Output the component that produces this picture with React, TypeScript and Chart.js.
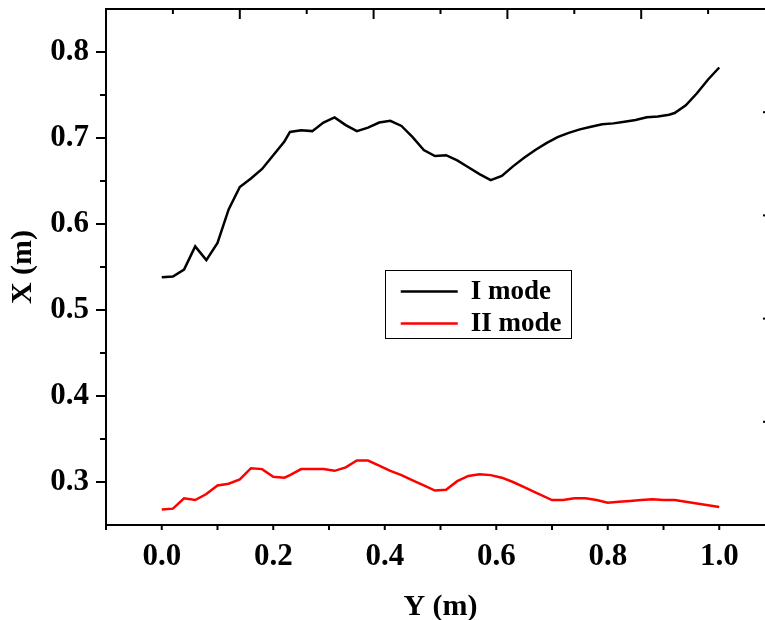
import React, { useEffect, useRef } from "react";
import { Chart, registerables } from "chart.js";

Chart.register(...registerables);

// ---- data ----
const modeIX = [0, 0.02, 0.04, 0.06, 0.08, 0.10, 0.12, 0.14, 0.16, 0.18, 0.20, 0.22, 0.23, 0.25, 0.27, 0.29, 0.31, 0.33, 0.35, 0.37, 0.39, 0.41, 0.43, 0.45, 0.47, 0.49, 0.51, 0.53, 0.55, 0.57, 0.59, 0.61, 0.63, 0.65, 0.67, 0.69, 0.71, 0.73, 0.75, 0.77, 0.79, 0.81, 0.83, 0.85, 0.87, 0.89, 0.91, 0.92, 0.94, 0.96, 0.98, 1.00];
const modeIY = [0.538, 0.539, 0.547, 0.574, 0.558, 0.578, 0.617, 0.643, 0.653, 0.664, 0.680, 0.696, 0.707, 0.709, 0.708, 0.718, 0.724, 0.715, 0.708, 0.712, 0.718, 0.720, 0.714, 0.701, 0.686, 0.679, 0.680, 0.674, 0.666, 0.658, 0.651, 0.656, 0.667, 0.677, 0.686, 0.694, 0.701, 0.706, 0.710, 0.713, 0.716, 0.717, 0.719, 0.721, 0.724, 0.725, 0.727, 0.729, 0.738, 0.752, 0.768, 0.782];

const modeIIX = [0, 0.02, 0.04, 0.06, 0.08, 0.10, 0.12, 0.14, 0.16, 0.18, 0.20, 0.22, 0.23, 0.25, 0.27, 0.29, 0.31, 0.33, 0.35, 0.37, 0.39, 0.41, 0.43, 0.45, 0.47, 0.49, 0.51, 0.53, 0.55, 0.57, 0.59, 0.61, 0.63, 0.65, 0.67, 0.70, 0.72, 0.74, 0.76, 0.78, 0.80, 0.82, 0.84, 0.86, 0.88, 0.90, 0.92, 0.94, 0.96, 0.98, 1.00];
const modeIIY = [0.268, 0.269, 0.281, 0.279, 0.286, 0.296, 0.298, 0.303, 0.316, 0.315, 0.306, 0.305, 0.308, 0.315, 0.315, 0.315, 0.313, 0.317, 0.325, 0.325, 0.319, 0.313, 0.308, 0.302, 0.296, 0.290, 0.291, 0.301, 0.307, 0.309, 0.308, 0.305, 0.300, 0.294, 0.288, 0.279, 0.279, 0.281, 0.281, 0.279, 0.276, 0.277, 0.278, 0.279, 0.280, 0.279, 0.279, 0.277, 0.275, 0.273, 0.271];

const seriesLabels = ["I mode", "II mode"];
const seriesColors = ["#000000", "#ff0000"];

const xTickValues = [0, 0.2, 0.4, 0.6, 0.8, 1.0];
const xMinorValues = [-0.1, 0.1, 0.3, 0.5, 0.7, 0.9, 1.1];
const yTickValues = [0.3, 0.4, 0.5, 0.6, 0.7, 0.8];
const yMinorValues = [0.35, 0.45, 0.55, 0.65, 0.75];
const topMajorValues = [2, 4, 6, 8];
const topMinorValues = [1, 3, 5, 7, 9];
const rightTickValues = [1, 2, 3, 4];

const xAxisTitle = "Y (m)";
const yAxisTitle = "X (m)";

const FONT = '"Liberation Serif", "Times New Roman", serif';

const ticksPlugin = {
  id: "customTicks",
  afterDraw(chart: any) {
    const { ctx, chartArea } = chart;
    const { x, y, x2, y2 } = chart.scales;
    ctx.save();
    ctx.strokeStyle = "#000";
    ctx.lineWidth = 2;
    const seg = (a: number, b: number, c: number, d: number) => {
      ctx.beginPath();
      ctx.moveTo(a, b);
      ctx.lineTo(c, d);
      ctx.stroke();
    };
    yTickValues.forEach((v) => {
      const p = y.getPixelForValue(v);
      seg(chartArea.left - 10, p, chartArea.left, p);
    });
    yMinorValues.forEach((v) => {
      const p = y.getPixelForValue(v);
      seg(chartArea.left - 6, p, chartArea.left, p);
    });
    [...xTickValues, ...xMinorValues].forEach((v) => {
      const p = x.getPixelForValue(v);
      seg(p, chartArea.bottom, p, chartArea.bottom + 5);
    });
    topMajorValues.forEach((v) => {
      const p = x2.getPixelForValue(v);
      seg(p, chartArea.top, p, chartArea.top + 10);
    });
    topMinorValues.forEach((v) => {
      const p = x2.getPixelForValue(v);
      seg(p, chartArea.top, p, chartArea.top + 5);
    });
    rightTickValues.forEach((v) => {
      const p = y2.getPixelForValue(v);
      seg(chartArea.right - 12, p, chartArea.right, p);
    });

    // legend
    const left = x.getPixelForValue(0.4);
    const top = y.getPixelForValue(0.546);
    const w = 186;
    const h = 68;
    ctx.lineWidth = 1;
    ctx.strokeRect(Math.round(left) + 0.5, Math.round(top) + 0.5, w, h);
    ctx.font = `bold 27px ${FONT}`;
    ctx.textBaseline = "alphabetic";
    ctx.textAlign = "left";
    chart.data.datasets.forEach((ds: any, i: number) => {
      const sy = top + 21 + i * 32;
      ctx.strokeStyle = ds.borderColor;
      ctx.lineWidth = 2.5;
      seg(left + 16, sy, left + 73, sy);
      ctx.fillStyle = "#000";
      ctx.fillText(ds.label, left + 86, sy + 8);
    });
    ctx.restore();
  },
};

export default function App() {
  const ref = useRef<HTMLCanvasElement | null>(null);

  useEffect(() => {
    if (!ref.current) return;
    const tickFont = { family: FONT, size: 31, weight: "bold" as const };
    const chart = new Chart(ref.current, {
      type: "line",
      data: {
        datasets: [
          {
            label: seriesLabels[0],
            data: modeIX.map((v, i) => ({ x: v, y: modeIY[i] })),
            borderColor: seriesColors[0],
            backgroundColor: seriesColors[0],
            borderWidth: 2.5,
            pointRadius: 0,
            tension: 0,
            xAxisID: "x",
            yAxisID: "y",
          },
          {
            label: seriesLabels[1],
            data: modeIIX.map((v, i) => ({ x: v, y: modeIIY[i] })),
            borderColor: seriesColors[1],
            backgroundColor: seriesColors[1],
            borderWidth: 2.5,
            pointRadius: 0,
            tension: 0,
            xAxisID: "x",
            yAxisID: "y",
          },
        ],
      },
      options: {
        animation: false,
        responsive: false,
        devicePixelRatio: 1,
        layout: { padding: 0 },
        plugins: {
          legend: { display: false },
          tooltip: { enabled: false },
          title: { display: false },
        },
        scales: {
          x: {
            type: "linear",
            position: "bottom",
            min: -0.1,
            max: 1.1,
            afterBuildTicks: (s: any) => {
              s.ticks = xTickValues.map((v) => ({ value: v }));
            },
            afterFit: (s: any) => {
              s.height = 95;
              s.paddingLeft = 0;
              s.paddingRight = 0;
            },
            ticks: {
              color: "#000",
              font: tickFont,
              padding: 13,
              maxRotation: 0,
              autoSkip: false,
              callback: (v: any) => Number(v).toFixed(1),
            },
            grid: { display: false, drawTicks: false },
            border: { display: true, color: "#000", width: 2 },
            title: {
              display: true,
              text: xAxisTitle,
              color: "#000",
              font: { family: FONT, size: 30, weight: "bold", lineHeight: 0.6 },
              padding: { top: 0, bottom: 3.5 },
            },
          },
          y: {
            type: "linear",
            position: "left",
            min: 0.25,
            max: 0.85,
            afterBuildTicks: (s: any) => {
              s.ticks = yTickValues.map((v) => ({ value: v }));
            },
            afterFit: (s: any) => {
              s.width = 106;
              s.paddingTop = 0;
              s.paddingBottom = 0;
            },
            ticks: {
              color: "#000",
              font: tickFont,
              padding: 17,
              autoSkip: false,
              callback: (v: any) => Number(v).toFixed(1),
            },
            grid: { display: false, drawTicks: false },
            border: { display: true, color: "#000", width: 2 },
            title: {
              display: true,
              text: yAxisTitle,
              color: "#000",
              font: { family: FONT, size: 30, weight: "bold", lineHeight: 0.6 },
              padding: { top: 14, bottom: 0 },
            },
          },
          x2: {
            type: "linear",
            position: "top",
            min: 0,
            max: 10,
            afterFit: (s: any) => {
              s.height = 9;
              s.paddingLeft = 0;
              s.paddingRight = 0;
            },
            ticks: { display: false },
            grid: { display: false, drawTicks: false },
            border: { display: true, color: "#000", width: 2 },
          },
          y2: {
            type: "linear",
            position: "right",
            min: 0,
            max: 5,
            afterFit: (s: any) => {
              s.width = 25;
              s.paddingTop = 0;
              s.paddingBottom = 0;
            },
            ticks: { display: false },
            grid: { display: false, drawTicks: false },
            border: { display: true, color: "#000", width: 2 },
          },
        },
      },
      plugins: [ticksPlugin],
    });
    return () => chart.destroy();
  }, []);

  return (
    <div
      style={{
        position: "fixed",
        left: 0,
        top: 0,
        width: 765,
        height: 620,
        overflow: "hidden",
        background: "#fff",
      }}
    >
      <canvas ref={ref} width={800} height={620} style={{ display: "block", width: 800, height: 620 }} />
    </div>
  );
}
